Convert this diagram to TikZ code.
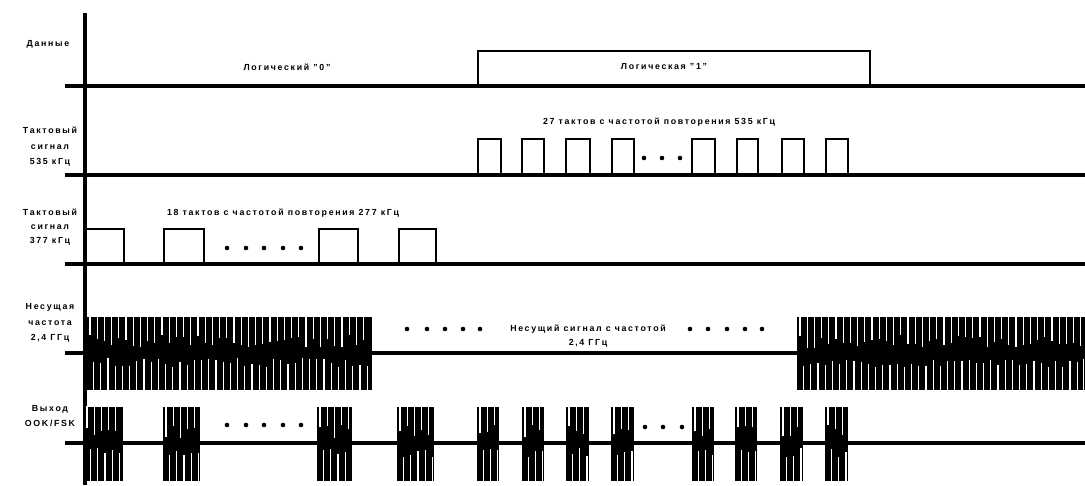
\documentclass[tikz,border=0pt]{standalone}
\usepackage{fontspec}
\setmainfont{Liberation Sans}[LetterSpace=19]
\begin{document}
\begin{tikzpicture}[x=1pt,y=-1pt,
  lbl/.style={font=\bfseries\fontsize{8.8}{15.5}\selectfont, align=center, inner sep=0pt, text=black},
  axisline/.style={line width=3.4pt},
  baseline/.style={line width=3.2pt},
  pulse/.style={line width=1.6pt},
  dotmark/.style={fill=black}]
\useasboundingbox (0,0) rectangle (1085,485);
\fill[white] (0,0) rectangle (1085,485);
\pgfmathsetseed{4242}
% burst macro: x1 x2 ytop ybot
\newcommand\myburst[4]{%
  \fill[black] (#1,#3) rectangle (#2,#4);
  \pgfmathsetmacro\bmid{(#3+#4)/2}%
  \pgfmathsetmacro\bstart{#1+3}%
  \pgfmathsetmacro\bnext{#1+3+7.2}%
  \pgfmathsetmacro\bend{#2-2.5}%
  \foreach \sx in {\bstart,\bnext,...,\bend}{%
    \pgfmathsetmacro\la{#3+random(18,31)}%
    \pgfmathsetmacro\lb{\bmid+4+random(0,9)}%
    \pgfmathsetmacro\lx{\sx+3.6}%
    \draw[white,line width=1.1pt] (\sx,#3-1) -- (\sx,\la);
    \ifdim\lx pt<#2pt \relax
      \pgfmathsetmacro\lxx{min(\lx,#2-1.5)}%
      \draw[white,line width=1.1pt] (\lxx,\lb) -- (\lxx,#4+1);
    \fi
  }%
}
% axis
\draw[axisline] (85,13) -- (85,485);
% row 1: data
\draw[baseline] (65,86) -- (1085,86);
\draw[pulse] (478,86) -- (478,51) -- (870,51) -- (870,86);
\node[lbl] (ldata) at (48,44) {Данные};
\node[lbl] (l0) at (287,67) {Логический "0"};
\node[lbl] (l1) at (664,67) {Логическая "1"};
% row 2: clock 535
\draw[line width=3.8pt] (65,175) -- (1085,175);
\foreach \a/\b in {478/501,522/544,566/590,612/634,692/715,737/758,782/804,826/848}{
  \draw[pulse] (\a,175) -- (\a,139) -- (\b,139) -- (\b,175);
}
\foreach \d in {644,662,680}{ \fill[dotmark] (\d,158) circle (2.3); }
\node[lbl] (lclkA) at (50,147) {Тактовый\\сигнал\\535 кГц};
\node[lbl] (hclkA) at (659,122) {27 тактов с частотой повторения 535 кГц};
% row 3: clock 377
\draw[baseline] (65,264) -- (1085,264);
\draw[pulse] (85,229) -- (124,229) -- (124,264);
\foreach \a/\b in {164/204,319/358,399/436}{
  \draw[pulse] (\a,264) -- (\a,229) -- (\b,229) -- (\b,264);
}
\foreach \d in {227,246,264,283,301}{ \fill[dotmark] (\d,248) circle (2.3); }
\node[lbl,font=\bfseries\fontsize{8.8}{14}\selectfont] (lclkB) at (50,227) {Тактовый\\сигнал\\377 кГц};
\node[lbl] (hclkB) at (283,213) {18 тактов с частотой повторения 277 кГц};
% row 4: carrier
\draw[baseline] (65,353) -- (1085,353);
\myburst{87}{372}{317}{390}
\myburst{797}{1085}{317}{390}
\foreach \d in {407,427,445,463,480,690,708,727,745,762}{ \fill[dotmark] (\d,329) circle (2.3); }
\node[lbl] (lcar) at (50,323) {Несущая\\частота\\2,4 ГГц};
\node[lbl,font=\bfseries\fontsize{8.8}{14}\selectfont] (hcar) at (588,336) {Несущий сигнал с частотой\\2,4 ГГц};
% row 5: output
\draw[baseline] (65,443) -- (1085,443);
\foreach \a/\b in {84/123,163/200,317/352,397/434,477/499,522/544,566/589,611/634,692/714,735/757,780/803,825/848}{
  \myburst{\a}{\b}{407}{481}
}
\foreach \d in {227,246,264,283,301}{ \fill[dotmark] (\d,425) circle (2.3); }
\foreach \d in {645,663,682}{ \fill[dotmark] (\d,427) circle (2.3); }
\node[lbl] (lout) at (50,416) {Выход\\OOK/FSK};
\end{tikzpicture}
\end{document}
